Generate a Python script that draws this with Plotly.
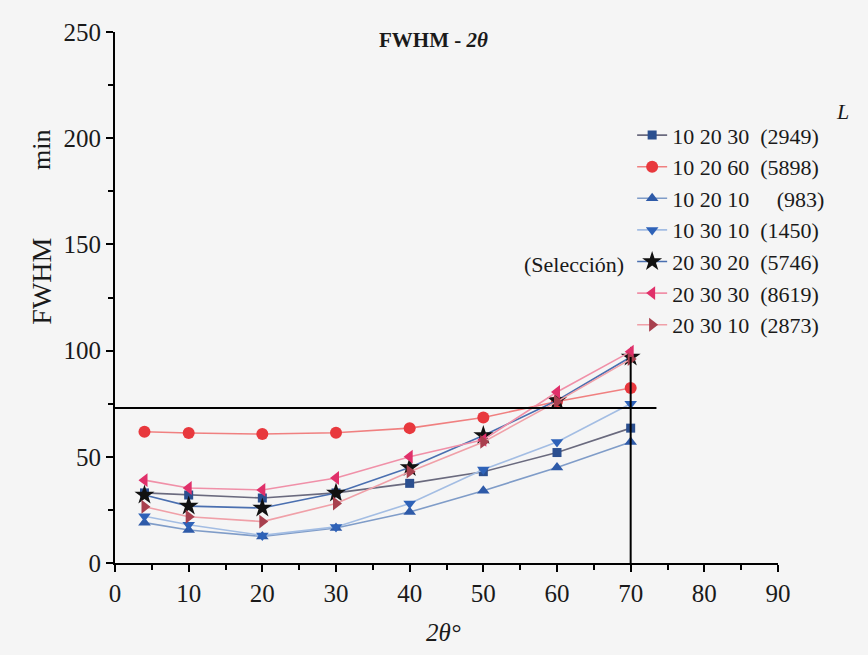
import plotly.graph_objects as go

# ---- data ----
angles = [4, 10, 20, 30, 40, 50, 60, 70]

names = [
    "10 20 30\u00a0\u00a0(2949)",
    "10 20 60\u00a0\u00a0(5898)",
    "10 20 10\u00a0\u00a0\u00a0\u00a0\u00a0(983)",
    "10 30 10\u00a0\u00a0(1450)",
    "20 30 20\u00a0\u00a0(5746)",
    "20 30 30\u00a0\u00a0(8619)",
    "20 30 10\u00a0\u00a0(2873)",
]

fwhm_10_20_30 = [33, 32, 30.6, 33, 37.5, 43, 52, 63.5]
fwhm_10_20_60 = [61.8, 61.2, 60.7, 61.3, 63.5, 68.5, 76, 82.4]
fwhm_10_20_10 = [19, 15.5, 12.5, 16.5, 24, 34, 45, 57]
fwhm_10_30_10 = [22, 18, 13, 17, 28, 44, 57, 75]
fwhm_20_30_20 = [32, 26.8, 25.9, 33, 45, 60, 76.5, 97]
fwhm_20_30_30 = [39, 35.3, 34.4, 40, 50, 58, 80.5, 99.5]
fwhm_20_30_10 = [26.5, 21.8, 19.5, 28, 43, 57, 76, 96]

series = [fwhm_10_20_30, fwhm_10_20_60, fwhm_10_20_10, fwhm_10_30_10,
          fwhm_20_30_20, fwhm_20_30_30, fwhm_20_30_10]

symbols = ["square", "circle", "triangle-up", "triangle-down", "star",
           "triangle-left", "triangle-right"]
marker_colors = ["#2b4f8f", "#e8383d", "#2e5aa8", "#2e62b8", "#111111",
                 "#e0306a", "#a8404e"]
line_colors = ["#6a6a7e", "#f08080", "#7f9cc8", "#a3bde3", "#4a6fb0",
               "#f090a8", "#f0a0a8"]
marker_sizes = [9, 12, 11, 11, 15, 12, 12]

sel_angle = 70
sel_fwhm = 73
sel_line_end = 73.5
sel_vert_top = 97

x_ticks = [0, 10, 20, 30, 40, 50, 60, 70, 80, 90]
y_ticks = [0, 50, 100, 150, 200, 250]

SERIF = "Liberation Serif, Times New Roman, serif"

fig = go.Figure()
for i, ys in enumerate(series):
    fig.add_trace(go.Scatter(
        x=angles, y=ys, name=names[i], mode="lines+markers",
        line=dict(color=line_colors[i], width=1.6),
        marker=dict(symbol=symbols[i], color=marker_colors[i],
                    size=marker_sizes[i], line=dict(width=0)),
    ))

# selection reference lines
fig.add_shape(type="line", x0=0, x1=sel_line_end, y0=sel_fwhm, y1=sel_fwhm,
              line=dict(color="black", width=2), layer="above")
fig.add_shape(type="line", x0=sel_angle, x1=sel_angle, y0=0, y1=sel_vert_top,
              line=dict(color="black", width=2), layer="above")

fig.update_layout(
    width=868, height=655,
    margin=dict(l=115, r=90, t=32, b=92),
    paper_bgcolor="#f5f5f5", plot_bgcolor="#f5f5f5",
    font=dict(family=SERIF, size=24, color="#1a1a1a"),
    showlegend=True,
    legend=dict(x=0.78, y=0.845, xanchor="left", yanchor="top",
                bgcolor="rgba(0,0,0,0)",
                font=dict(family=SERIF, size=22, color="#1a1a1a"),
                itemwidth=30),
    xaxis=dict(range=[0, 90], tickvals=x_ticks, showgrid=False, zeroline=False,
               showline=True, linecolor="black", linewidth=2,
               ticks="outside", ticklen=7, tickwidth=2, tickcolor="black",
               minor=dict(ticks="outside", ticklen=5, tickwidth=2,
                          tickcolor="black", dtick=5),
               tickfont=dict(family=SERIF, size=25)),
    yaxis=dict(range=[0, 250], tickvals=y_ticks, showgrid=False, zeroline=False,
               showline=True, linecolor="black", linewidth=2,
               ticks="outside", ticklen=7, tickwidth=2, tickcolor="black",
               minor=dict(ticks="outside", ticklen=5, tickwidth=2,
                          tickcolor="black", dtick=25),
               tickfont=dict(family=SERIF, size=25)),
)

annotations = [
    dict(text="<b>FWHM - </b><b><i>2θ</i></b>", x=0.48, y=0.985,
         font=dict(size=21)),
    dict(text="<i>2θ°</i>", x=0.495, y=-0.13, font=dict(size=25)),
    dict(text="FWHM", x=-0.11, y=0.53, textangle=-90, font=dict(size=28)),
    dict(text="min", x=-0.11, y=0.778, textangle=-90, font=dict(size=26)),
    dict(text="<i>L</i>", x=1.098, y=0.85, font=dict(size=22)),
    dict(text="(Selección)", x=0.77, y=0.563, xanchor="right",
         font=dict(size=22)),
]
for a in annotations:
    a.setdefault("xanchor", "center")
    fig.add_annotation(xref="paper", yref="paper", showarrow=False,
                       yanchor="middle", **a)

fig.write_html("out.html")
